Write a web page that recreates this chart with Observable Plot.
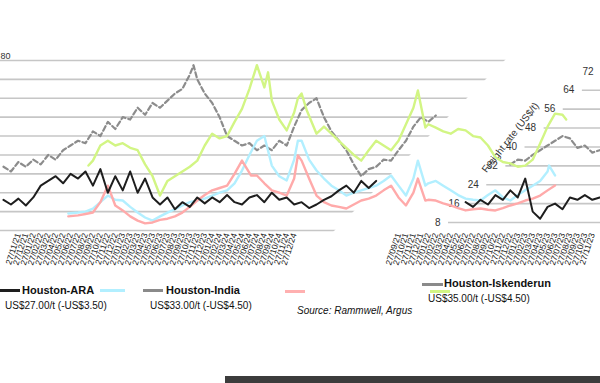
<!DOCTYPE html>
<html><head><meta charset="utf-8">
<script src="https://cdn.jsdelivr.net/npm/d3@7"></script>
<script src="https://cdn.jsdelivr.net/npm/@observablehq/plot@0.6"></script>
<style>
html,body{margin:0;padding:0;background:#fff;overflow:hidden;}
#wrap{position:relative;width:600px;height:383px;overflow:hidden;font-family:"Liberation Sans",Arial,sans-serif;}
.sw{position:absolute;height:3px;}
.lg{position:absolute;font-weight:bold;font-size:11px;color:#111;white-space:nowrap;line-height:1;}
.val{position:absolute;font-size:10px;color:#111;white-space:nowrap;line-height:1;}
.src{position:absolute;font-size:10px;font-style:italic;color:#111;white-space:nowrap;line-height:1;}
#bar{position:absolute;left:225px;top:376px;width:375px;height:7px;background:#3c3c3c;}
</style></head>
<body>
<div id="wrap">
  <div class="sw" style="left:0px;top:289px;width:20px;background:#1e1e1e"></div>
  <div class="lg" style="left:22px;top:285px">Houston-ARA</div>
  <div class="sw" style="left:100px;top:289px;width:25px;background:#b2efff"></div>
  <div class="sw" style="left:143px;top:289px;width:20px;background:#8a8a8a"></div>
  <div class="lg" style="left:166px;top:285px">Houston-India</div>
  <div class="sw" style="left:285px;top:290px;width:20px;background:#ffb0b0"></div>
  <div class="val" style="left:5px;top:301px">US$27.00/t (-US$3.50)</div>
  <div class="val" style="left:150px;top:301px">US$33.00/t (-US$4.50)</div>
  <div class="sw" style="left:422px;top:283px;width:21px;background:#8a8a8a"></div>
  <div class="lg" style="left:444px;top:278px">Houston-Iskenderun</div>
  <div class="sw" style="left:430px;top:290px;width:20px;background:#d2f584"></div>
  <div class="val" style="left:428px;top:294px">US$35.00/t (-US$4.50)</div>
  <div class="src" style="left:297px;top:306px">Source: Rammwell, Argus</div>
  <div id="bar"></div>
</div>
<script>
// ---- data ----
const yTicks = [8, 16, 24, 32, 40, 48, 56, 64, 72, 80];
const rightAxisTicks = [8, 16, 24, 32, 40, 48, 56, 64, 72];
const leftLabels = ["27/11/21","27/12/21",
  "27/01/22","27/02/22","27/03/22","27/04/22","27/05/22","27/06/22","27/07/22","27/08/22","27/09/22","27/10/22","27/11/22","27/12/22",
  "27/01/23","27/02/23","27/03/23","27/04/23","27/05/23","27/06/23","27/07/23","27/08/23","27/09/23","27/10/23","27/11/23","27/12/23",
  "27/01/24","27/02/24","27/03/24","27/04/24","27/05/24","27/06/24","27/07/24","27/08/24","27/09/24","27/10/24","27/11/24","27/12/24"];
const rightLabels = ["27/09/21","27/10/21","27/11/21","27/12/21",
  "27/01/22","27/02/22","27/03/22","27/04/22","27/05/22","27/06/22","27/07/22","27/08/22","27/09/22","27/10/22","27/11/22","27/12/22",
  "27/01/23","27/02/23","27/03/23","27/04/23","27/05/23","27/06/23","27/07/23","27/08/23","27/09/23","27/10/23","27/11/23"];
const leftLabelStart = 2;
const rightLabelStart = 53;
const axisTitle = "Freight rate (US$/t)";

// [period, US$/t]
const houstonARA = [[0,21],[1,19],[2,21.5],[3,18.6],[4,22],[5,27],[6,29],[7,31],[8,28],[9,32],[10,30],[11,33],[12,27],[13,34],[14,24],[15,31],[16,25],[17,33],[18,24],[19,30],[20,22],[21,19],[22,22],[23,17],[24,20],[25,18],[26,22],[27,19.5],[28,22],[29,20],[30,23],[31,20],[32,19],[33,22],[34,23],[35,20],[36,24],[37,21],[38,22],[39,19],[40,20],[41,17.5],[42,19],[43,21],[44,22.5],[45,25],[46,27],[47,24],[48,29],[49,26],[50,29],[51,null],[62,20],[63,18],[64,21],[65,19],[66,23],[67,21],[68,25],[69,22],[70,30],[71,16],[72,13],[73,18],[74,19.4],[75,17],[76,22],[77,21],[78,23],[79,21],[80,22]];
const houstonCyanRoute = [[8.7,15.2],[10,15.6],[11,16],[12,17.3],[13,20],[14,22.8],[15,21],[16,20.7],[17,18],[18,15.6],[19,13.5],[20,12.2],[21,14],[22,15.6],[23,17],[24,18.6],[25,20],[26,20.7],[27,21.5],[28,22.8],[29,24],[30,25],[31,28],[32,33.4],[33,40],[34,46],[35,48],[36,35.5],[37,31],[38,29.2],[39,38],[39.5,46],[40,46],[41,38],[42,33.4],[43,30],[44,27],[45,25],[46,22.8],[47,24],[48,25],[49,26],[50,27],[51,29],[52,31.3],[53,27],[54,22.8],[55,30],[55.6,37.6],[56.6,27],[57,28],[58,29],[59,27],[60,25],[61,23],[62,21.5],[63,21],[64,20.7],[65,23],[66,25],[67,22],[68,20.7],[69,23],[70,25],[71,27],[72,29],[73,33],[73.2,35.5],[74,31.3]];
const houstonIndia = [[0,35],[1,33],[2,37],[3,35],[4,38],[5,36],[6,40],[7,38],[8,42],[9,44],[10,46],[11,45],[12,50],[13,48],[14,54],[15,51],[16,56],[17,55],[18,60],[19,57],[20,62],[21,60],[22,63],[23,66],[24,68],[25,74],[25.5,78],[26,72],[27,66],[28,62],[29,56],[30,48],[31,46],[32,44],[33,45],[34,42],[35,44],[36,42],[37,46],[38,44],[39,52],[40,59],[41,62],[42,64],[43,56],[44,50],[45,46],[46,42],[47,36],[48,31],[49,34],[50,35],[51,38],[52,37.6],[53,42],[54,46],[55,52],[56,56],[57,54],[58,56.7],[59,null],[68,36],[69,38],[70,37.6],[71,40],[72,42],[73,44],[74,46],[75,48],[76,47],[77,43],[78,44],[79,41],[80,42]];
const houstonRedRoute = [[8.7,14],[10,14.4],[11,15],[12,15.6],[13,20],[14,27],[15,18.6],[16,16.5],[17,14],[18,12.2],[19,11],[20,11.4],[21,12.5],[22,13],[23,14],[24,15.6],[25,18],[26,20.7],[27,23],[28,25],[29,26],[30,27],[31,32],[32,37.6],[33.2,31.3],[34,31.3],[35,28],[36,25],[37,24],[38,22.8],[39,30],[39.5,39.8],[40,37.6],[41,30],[42,22.8],[43,20],[44,18.6],[45,18],[46,17.3],[47,19],[48,20.7],[49,21.5],[50,22.8],[51,25],[52,27],[53,22],[54,18.6],[55,24],[55.6,30],[56.6,20.7],[57,21],[58,20.7],[59,19.5],[60,18.6],[61,17.5],[62,16.5],[63,17],[64,17.3],[65,16.8],[66,16.5],[67,17.5],[68,18.6],[69,19.5],[70,20.7],[71,21.5],[72,22.8],[73,25],[74,27.1]];
const houstonIskenderun = [[11.4,35.5],[12,37.6],[13,44],[14,46],[15,44],[16,45],[17,43],[18,42],[19,36],[20,31],[21,22.8],[22,29],[23,31],[24,33],[25,35],[26,37.6],[27,44],[28,49],[29,47],[30,48],[31,54],[32,59.5],[33,68],[34,78],[35,68.6],[35.5,75],[36,63],[37,55],[38,50.4],[39,58],[39.5,64],[40,66],[40.7,58.8],[42,49],[43,52],[44,49],[45,46],[46,43],[47,40],[48,37.6],[49,42],[50,46],[51,44],[52,42],[53,46],[54,53],[55,60],[55.6,67.3],[56.6,51.6],[57,53],[58,51.6],[59,50],[60,49],[61,51],[62,50.4],[63,48],[64,47.4],[65,44],[66,39],[67,37],[68,36.4],[69,35],[70,35.5],[71,38],[72,44.8],[73,52],[74,57.5],[75,57],[75.5,55]];

// ---- build ----
const rows = (pairs) => pairs.map(([p, v]) => ({period: p, value: v}));
const labelOf = new Map();
leftLabels.forEach((l, i) => labelOf.set(leftLabelStart + i, l));
rightLabels.forEach((l, i) => labelOf.set(rightLabelStart + i, l));
const tickPeriods = [...labelOf.keys()];

const wrap = document.getElementById("wrap");
const baseStyle = {position: "absolute", left: "0px", top: "0px", background: "transparent", overflow: "visible", fontFamily: "Liberation Sans, Arial, sans-serif"};
const common = {width: 600, height: 280, marginTop: 60, marginBottom: 50, marginLeft: 0, marginRight: 0};
const xDom = [-0.4, 80.1];

// layer 1: gridlines (clipped by staircase edge)
const grid = Plot.plot({
  ...common, style: baseStyle,
  x: {domain: xDom, axis: null},
  y: {domain: [8, 80], axis: null},
  marks: [
    Plot.ruleY(yTicks, {stroke: "#c6c6c6", strokeWidth: 1.6}),
    Plot.text([80], {y: d => d, frameAnchor: "left", text: d => String(d), textAnchor: "start", dy: -4, fontSize: 9, fill: "#333"})
  ]
});
grid.style.clipPath = "polygon(0 0, 565px 0, 285px 280px, 0 280px)";
wrap.appendChild(grid);

// layer 2: wrapped axis copy
const axisCopy = Plot.plot({
  width: 600, height: 280, margin: 0, style: baseStyle,
  x: {domain: [8, 72], range: [443, 596], axis: null},
  y: {domain: [8, 80], range: [222, 52], axis: null},
  marks: [
    Plot.ruleY(rightAxisTicks, {y: d => d, x1: d => d, x2: 80, dx: 5, stroke: "#c6c6c6", strokeWidth: 1.6}),
    Plot.text(rightAxisTicks, {x: d => d, y: d => d, text: d => String(d), textAnchor: "end", dx: -3, fontSize: 10, fill: "#333"}),
    Plot.text([{x: 36, y: 44, t: axisTitle}], {x: "x", y: "y", text: "t", rotate: -52, fontSize: 10, fill: "#333"})
  ]
});
wrap.appendChild(axisCopy);

// layer 3: series + date axis
const lines = Plot.plot({
  ...common, style: baseStyle,
  x: {domain: xDom, label: null},
  y: {domain: [8, 80], axis: null},
  marks: [
    Plot.line(rows(houstonIndia), {x: "period", y: "value", stroke: "#8c8c8c", strokeWidth: 2.2, strokeDasharray: "5,3"}),
    Plot.line(rows(houstonIskenderun), {x: "period", y: "value", stroke: "#d2f584", strokeWidth: 2.4}),
    Plot.line(rows(houstonCyanRoute), {x: "period", y: "value", stroke: "#b2efff", strokeWidth: 2.4}),
    Plot.line(rows(houstonRedRoute), {x: "period", y: "value", stroke: "#ffaaaa", strokeWidth: 2.4}),
    Plot.line(rows(houstonARA), {x: "period", y: "value", stroke: "#1e1e1e", strokeWidth: 2}),
    Plot.axisX(tickPeriods, {anchor: "bottom", label: null, tickSize: 0, tickPadding: 3, tickRotate: -72, fontSize: 8.5, fill: "#222", tickFormat: p => labelOf.get(p)})
  ]
});
wrap.appendChild(lines);
</script>
</body></html>
